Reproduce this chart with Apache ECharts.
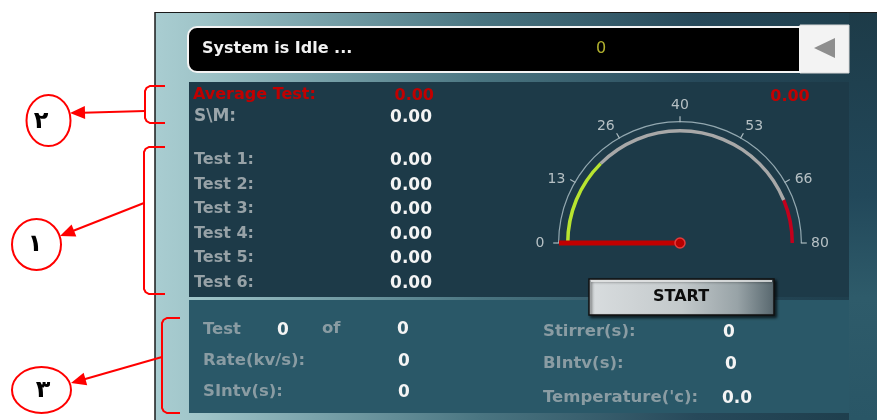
<!DOCTYPE html>
<html><head><meta charset="utf-8">
<script src="https://cdn.jsdelivr.net/npm/echarts@6/dist/echarts.min.js"></script>
<style>html,body{margin:0;padding:0;background:#fff}#c{width:877px;height:420px}</style>
</head><body><div id="c"></div>
<script>
// ---- data ----
const statusText = 'System is Idle ...';
const statusCount = '0';
const averageLabel = 'Average Test:';
const averageValue = 0.00;
const smLabel = 'S\\M:';
const smValue = 0.00;
const testLabels = ['Test 1:', 'Test 2:', 'Test 3:', 'Test 4:', 'Test 5:', 'Test 6:'];
const testValues = [0, 0, 0, 0, 0, 0];
const gaugeValue = [0];
const gaugeMin = 0;
const gaugeMax = 80;
const gaugeTickLabels = ['0', '13', '26', '40', '53', '66', '80'];
const gaugeBandStops = [20, 70, 80];
const gaugeBandColors = ['#b8e430', '#a8a8a8', '#c3001c'];
const buttonText = 'START';
const runLabels = ['Test', 'of'];
const runValues = ['0', '0'];
const lowerLeftLabels = ['Rate(kv/s):', 'SIntv(s):'];
const lowerLeftValues = ['0', '0'];
const lowerRightLabels = ['Stirrer(s):', 'BIntv(s):', "Temperature('c):"];
const lowerRightValues = ['0', '0', '0.0'];
const noteNumerals = ['\u0662', '\u0661', '\u0663'];

// ---- styles ----
const FF = '"DejaVu Sans", Verdana, sans-serif';
const RED = '#ff0000';
function txt(x, y, text, fill, size, weight, align) {
  return { type: 'text', x: x, y: y, z: 10,
    style: { text: text, fill: fill, fontSize: size, fontWeight: weight || 'bold', fontFamily: FF,
      align: align || 'left', verticalAlign: 'middle' } };
}
const els = [];
// frame
els.push({ type: 'rect', z: 0, shape: { x: 155, y: 12, width: 722, height: 408 },
  style: { fill: { type: 'linear', x: 0, y: 0, x2: 1, y2: 0, colorStops: [
    { offset: 0, color: '#a9cdd1' }, { offset: 0.06, color: '#a0c5c9' }, { offset: 0.22, color: '#7aa3ab' },
    { offset: 0.45, color: '#4a7581' }, { offset: 0.75, color: '#27495a' }, { offset: 1, color: '#1d3d4b' }] } } });
els.push({ type: 'rect', z: 1, shape: { x: 849, y: 12, width: 28, height: 408 },
  style: { fill: { type: 'linear', x: 0, y: 0, x2: 0, y2: 1, colorStops: [
    { offset: 0, color: '#1d3b48' }, { offset: 0.45, color: '#22485a' }, { offset: 0.7, color: '#2e5b6a' }, { offset: 1, color: '#295666' }] } } });
els.push({ type: 'line', z: 2, shape: { x1: 155, y1: 12.5, x2: 877, y2: 12.5 }, style: { stroke: '#1a1a1a', lineWidth: 1 } });
els.push({ type: 'line', z: 2, shape: { x1: 155, y1: 12, x2: 155, y2: 420 }, style: { stroke: '#1a1a1a', lineWidth: 1.5 } });
// status bar
els.push({ type: 'rect', z: 3, shape: { x: 800, y: 25, width: 49, height: 48 }, style: { fill: '#f3f3f3', stroke: '#d8d8d8', lineWidth: 1 } });
els.push({ type: 'rect', z: 3, shape: { x: 188, y: 27, width: 612, height: 45, r: [9, 0, 0, 9] }, style: { fill: '#000', stroke: '#f4f4f4', lineWidth: 2 } });
els.push({ type: 'polygon', z: 4, shape: { points: [[814, 48], [835, 38], [835, 58]] }, style: { fill: '#8e8e8e' } });
els.push(txt(202, 49, statusText, '#f2f2f2', 16, 'bold'));
els.push(txt(601, 49, statusCount, '#b0b02e', 16, 'normal', 'center'));
// upper panel
els.push({ type: 'rect', z: 3, shape: { x: 189, y: 82, width: 660, height: 215 }, style: { fill: '#1d3a48' } });
// lower panel
els.push({ type: 'rect', z: 3, shape: { x: 189, y: 300, width: 660, height: 113 }, style: { fill: '#2a5868' } });
// upper texts
els.push(txt(193, 95, averageLabel, '#c00000', 16, 'bold'));
els.push(txt(434, 96, averageValue.toFixed(2), '#c00000', 16, 'bold', 'right'));
els.push(txt(194, 117, smLabel, '#9aa5aa', 17, 'bold'));
els.push(txt(432, 118, smValue.toFixed(2), '#f4f4f4', 17, 'bold', 'right'));
testLabels.forEach(function (l, i) {
  const y = 160 + i * 24.5;
  els.push(txt(194, y, l, '#97a2a7', 16, 'bold'));
  els.push(txt(432, y + 1, testValues[i].toFixed(2), '#f4f4f4', 17, 'bold', 'right'));
});
// start button
els.push({ type: 'rect', z: 5, shape: { x: 589, y: 279, width: 185, height: 36 },
  style: { fill: { type: 'linear', x: 0, y: 0, x2: 1, y2: 0, colorStops: [
    { offset: 0, color: '#d9dddf' }, { offset: 0.5, color: '#c3c9cb' }, { offset: 0.8, color: '#98a3a7' }, { offset: 1, color: '#56666d' }] },
    stroke: '#111', lineWidth: 1.5, shadowBlur: 3, shadowColor: 'rgba(0,0,0,0.7)', shadowOffsetX: 2, shadowOffsetY: 2 } });
els.push({ type: 'line', z: 6, shape: { x1: 591, y1: 281, x2: 772, y2: 281 }, style: { stroke: '#f4f6f6', lineWidth: 1.5 } });
els.push(txt(681, 297, buttonText, '#0c0c0c', 16, 'bold', 'center'));
// lower texts
const LG = '#8a9ca3';
els.push(txt(203, 330, runLabels[0], LG, 16.5, 'bold'));
els.push(txt(283, 331, runValues[0], '#f4f4f4', 17, 'bold', 'center'));
els.push(txt(322, 329, runLabels[1], LG, 16.5, 'bold'));
els.push(txt(403, 330, runValues[1], '#f4f4f4', 17, 'bold', 'center'));
lowerLeftLabels.forEach(function (l, i) {
  els.push(txt(203, 361 + i * 31, l, LG, 16.5, 'bold'));
  els.push(txt(404, 362 + i * 31, lowerLeftValues[i], '#f4f4f4', 17, 'bold', 'center'));
});
const rY = [332, 364, 398];
const rX = [729, 731, 737];
lowerRightLabels.forEach(function (l, i) {
  els.push(txt(543, rY[i], l, LG, 16.5, 'bold'));
  els.push(txt(rX[i], rY[i] + 1, lowerRightValues[i], '#f4f4f4', 17, 'bold', 'center'));
});
// annotations
function bracket(x, y1, y2, xr) {
  return { type: 'polyline', z: 8, shape: { points: [[xr, y1], [x + 5, y1], [x + 1.5, y1 + 2], [x, y1 + 5], [x, y2 - 5], [x + 1.5, y2 - 2], [x + 5, y2], [xr, y2]] },
    style: { stroke: RED, lineWidth: 2, fill: null } };
}
function arrow(x1, y1, tx, ty) {
  const dx = tx - x1, dy = ty - y1, L = Math.sqrt(dx * dx + dy * dy);
  const ux = dx / L, uy = dy / L, hl = 15, hw = 6.5;
  const bx = tx - ux * hl, by = ty - uy * hl;
  return [
    { type: 'line', z: 8, shape: { x1: x1, y1: y1, x2: bx + ux * 2, y2: by + uy * 2 }, style: { stroke: RED, lineWidth: 2 } },
    { type: 'polygon', z: 8, shape: { points: [[tx, ty], [bx - uy * hw, by + ux * hw], [bx + uy * hw, by - ux * hw]] }, style: { fill: RED } }
  ];
}
function note(cx, cy, rx, ry, t, tx, ty) {
  return [
    { type: 'ellipse', z: 8, shape: { cx: cx, cy: cy, rx: rx, ry: ry }, style: { stroke: RED, lineWidth: 2, fill: '#fff' } },
    { type: 'text', z: 9, x: tx, y: ty, style: { text: t, fill: '#000', fontSize: 24, fontWeight: 'bold', fontFamily: FF, align: 'center', verticalAlign: 'middle' } }
  ];
}
els.push(bracket(145, 86, 123, 165));
els.push.apply(els, arrow(145, 111, 70, 113));
els.push.apply(els, note(48.5, 120.5, 22, 25.5, noteNumerals[0], 41, 122));
els.push(bracket(144, 147, 294, 165));
els.push.apply(els, arrow(144, 203, 60, 236));
els.push.apply(els, note(36.5, 244.5, 24.5, 25.5, noteNumerals[1], 35, 245));
els.push(bracket(162, 318, 413, 180));
els.push.apply(els, arrow(162, 357, 71, 383));
els.push.apply(els, note(41.5, 390, 29.5, 23, noteNumerals[2], 43, 391));

// ---- gauge tick-label placement (labels centred on a ring just outside the ticks) ----
const GC = [680, 243];
const GR = 122;
const LBL_FONT = 14;
const LBL_ANCHOR_R = 175;   // where ECharts anchors the label boxes
const LBL_CENTER_R = 140;   // where the label text should be centred
const LBL_ANGLE_SHIFT = 2 * Math.PI / 180; // inner labels sit slightly toward the arc ends
const LBL_DROP = 2;
const LBL_COLOR = '#b6c0c4';
const mctx = document.createElement('canvas').getContext('2d');
mctx.font = LBL_FONT + 'px ' + FF;
const nTicks = gaugeTickLabels.length;
const rich = {};
gaugeTickLabels.forEach(function (t, i) {
  const frac = i / (nTicks - 1);
  const ang = Math.PI - frac * Math.PI;
  const ux = Math.cos(ang), uy = -Math.sin(ang);
  const ax = GC[0] + ux * LBL_ANCHOR_R, ay = GC[1] + uy * LBL_ANCHOR_R;
  const isEnd = i === 0 || i === nTicks - 1;
  const shift = isEnd ? 0 : (frac < 0.5 ? LBL_ANGLE_SHIFT : (frac > 0.5 ? -LBL_ANGLE_SHIFT : 0));
  const la = ang + shift;
  const tx = GC[0] + Math.cos(la) * LBL_CENTER_R, ty = GC[1] - Math.sin(la) * LBL_CENTER_R + (isEnd ? 0 : LBL_DROP);
  const tw = mctx.measureText(t).width, ih = LBL_FONT;
  const align = ux < -0.4 ? 'left' : (ux > 0.4 ? 'right' : 'center');
  const valign = uy < -0.8 ? 'top' : (uy > 0.8 ? 'bottom' : 'middle');
  let pl = 0, pr = 0, pt = 0, pb = 0, d;
  if (align === 'left') pl = tx - tw / 2 - ax;
  else if (align === 'right') pr = ax - tx - tw / 2;
  else { d = tx - ax; if (d > 0) pl = 2 * d; else pr = -2 * d; }
  if (valign === 'top') pt = 2 * (ty - ih / 2 - ay);
  else if (valign === 'bottom') pb = 2 * (ay - ty - ih / 2);
  else { d = ty - ay; if (d > 0) pt = 2 * d; else pb = -2 * d; }
  rich['t' + i] = { padding: [pt, pr, pb, pl].map(function (v) { return Math.max(0, v); }),
    fontSize: LBL_FONT, lineHeight: ih, color: LBL_COLOR, fontFamily: FF };
});

const chart = echarts.init(document.getElementById('c'), null, { renderer: 'canvas' });
const span = gaugeMax - gaugeMin;
chart.setOption({
  animation: false,
  graphic: { elements: els },
  series: [
    {
      type: 'gauge', z: 20, center: GC, radius: 114, startAngle: 180, endAngle: 0,
      min: gaugeMin, max: gaugeMax,
      axisLine: { lineStyle: { width: 3.5, color: gaugeBandStops.map(function (s, i) { return [(s - gaugeMin) / span, gaugeBandColors[i]]; }) } },
      splitLine: { show: false }, axisTick: { show: false }, axisLabel: { show: false },
      pointer: { show: false }, anchor: { show: false }, title: { show: false }, detail: { show: false },
      data: [{ value: gaugeValue[0] }]
    },
    {
      type: 'gauge', z: 21, center: GC, radius: GR, startAngle: 180, endAngle: 0,
      min: gaugeMin, max: gaugeMax, splitNumber: nTicks - 1,
      axisLine: { lineStyle: { width: 1.2, color: [[1, '#93a8b0']] } },
      splitLine: { show: true, length: 6, distance: -6, lineStyle: { color: '#aab9bf', width: 1.2 } },
      axisTick: { show: false },
      axisLabel: { distance: GR - LBL_ANCHOR_R, color: LBL_COLOR, fontSize: LBL_FONT, fontFamily: FF, rich: rich,
        formatter: function (v) { const i = Math.round((v - gaugeMin) / span * (nTicks - 1)); return '{t' + i + '|' + gaugeTickLabels[i] + '}'; } },
      pointer: { show: true, icon: 'rect', length: 121, width: 5, itemStyle: { color: '#c20000' } },
      anchor: { show: true, showAbove: true, size: 10, icon: 'circle', itemStyle: { color: '#b80000', borderColor: '#e43a3a', borderWidth: 1.5 } },
      title: { show: false },
      detail: { show: true, offsetCenter: [110, -146], color: '#c40000', fontSize: 16, fontWeight: 'bold', fontFamily: FF,
        formatter: function (v) { return v.toFixed(2); } },
      data: [{ value: gaugeValue[0] }]
    }
  ]
});
</script></body></html>
